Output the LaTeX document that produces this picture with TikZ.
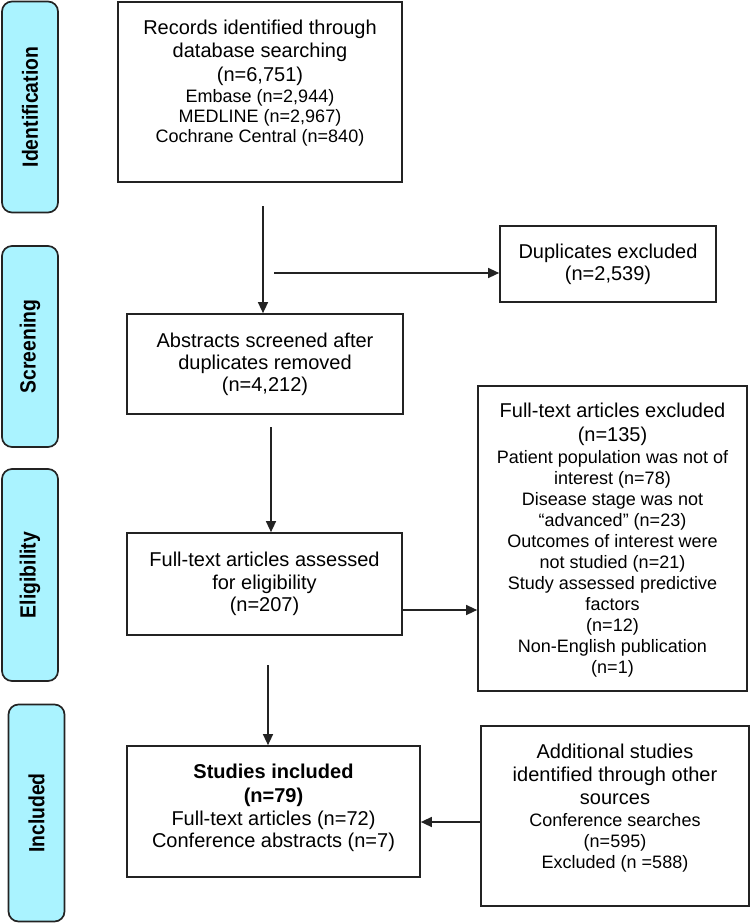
\documentclass[tikz,border=0pt]{standalone}
\usepackage{fontspec}
\setmainfont{Liberation Sans}
\usetikzlibrary{arrows.meta}
\definecolor{barfill}{RGB}{170,243,255}
\definecolor{edge}{RGB}{35,35,35}
\newcommand\smtext{\fontsize{18}{21}\selectfont}
\newcommand\barlab[1]{\scalebox{0.88}[1]{#1}}
\begin{document}
\begin{tikzpicture}[x=1pt,y=-1pt,
  box/.style={draw=edge,line width=1.7pt,rectangle,inner sep=0pt},
  boxtext/.style={align=center,inner sep=0pt,font=\fontsize{20}{23.5}\selectfont},
  bar/.style={draw=edge,line width=1.7pt,fill=barfill,rounded corners=10pt,rotate=90,
    minimum height=56pt,inner sep=0pt,font=\bfseries\fontsize{22}{24}\selectfont},
  arr/.style={draw=edge,line width=1.4pt,-{Triangle[length=11pt,width=10pt]}}]
\useasboundingbox (0,0) rectangle (750,923);

% phase bars
\node[bar,minimum width=211pt] (ident) at (30,107) {\barlab{Identification}};
\node[bar,minimum width=201pt] (screen) at (30,346.5) {\barlab{Screening}};
\node[bar,minimum width=212pt] (elig) at (30,575) {\barlab{Eligibility}};
\node[bar,minimum width=217pt] (incl) at (36.5,813) {\barlab{Included}};

% boxes
\node[box,minimum width=284pt,minimum height=180pt] (records) at (260,92) {};
\node[boxtext] (recordstext) at (260,83) {Records identified through\\ database searching\\ (n=6,751)\\[-2.5pt] \smtext Embase (n=2,944)\\[-3.5pt] \smtext MEDLINE (n=2,967)\\[-3.5pt] \smtext Cochrane Central (n=840)};

\node[box,boxtext,minimum width=216pt,minimum height=76pt] (dup) at (608,264) {Duplicates excluded\\[-1.5pt] (n=2,539)};

\node[box,boxtext,minimum width=276pt,minimum height=100pt] (abstracts) at (265,364) {Abstracts screened after\\[-1.5pt] duplicates removed\\[-1.5pt] (n=4,212)};

\node[box,boxtext,minimum width=275pt,minimum height=102pt] (fta) at (264.5,584) {Full-text articles assessed\\[-1pt] for eligibility\\[-1pt] (n=207)};

\node[box,minimum width=269pt,minimum height=305pt] (fte) at (612.5,538.5) {};
\node[boxtext] (ftetext) at (612.5,540) {Full-text articles excluded\\[0.5pt] (n=135)\\[-1.5pt] \smtext Patient population was not of\\[-2.5pt] \smtext interest (n=78)\\[-2.5pt] \smtext Disease stage was not\\[-2.5pt] \smtext “advanced” (n=23)\\[-2.5pt] \smtext Outcomes of interest were\\[-2.5pt] \smtext not studied (n=21)\\[-2.5pt] \smtext Study assessed predictive\\[-2.5pt] \smtext factors\\[-2.5pt] \smtext (n=12)\\[-2.5pt] \smtext Non-English publication\\[-2.5pt] \smtext (n=1)};

\node[box,minimum width=293pt,minimum height=131pt] (studies) at (273.5,811.5) {};
\node[boxtext] (studiestext) at (273.5,807.5) {\textbf{Studies included}\\[0.5pt] \textbf{(n=79)}\\[-0.5pt] Full-text articles (n=72)\\[-1.5pt] Conference abstracts (n=7)};

\node[box,minimum width=268pt,minimum height=180pt] (add) at (615,816) {};
\node[boxtext] (addtext) at (615,808) {Additional studies\\ identified through other\\[-0.5pt] sources\\[-1.5pt] \smtext Conference searches\\[-3pt] \smtext (n=595)\\[-2.5pt] \smtext Excluded (n =588)};

% connectors
\coordinate (c1) at (263,206);
\draw[arr] (c1) -- (c1 |- abstracts.north);
\coordinate (c2) at (274,273);
\draw[arr] (c2) -- (c2 -| dup.west);
\coordinate (c3) at (271,427);
\draw[arr] (c3) -- (c3 |- fta.north);
\coordinate (c4) at (fta.east |- 0,610);
\draw[arr] (c4) -- (c4 -| fte.west);
\coordinate (c5) at (268,665);
\draw[arr] (c5) -- (c5 |- studies.north);
\coordinate (c6) at (add.west |- 0,822);
\draw[arr] (c6) -- (c6 -| studies.east);
\end{tikzpicture}
\end{document}
